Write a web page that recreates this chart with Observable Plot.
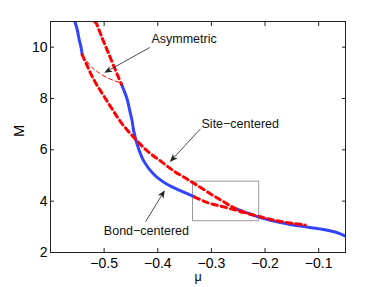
<!DOCTYPE html>
<html><head><meta charset="utf-8">
<script src="https://cdn.jsdelivr.net/npm/d3@7"></script>
<script src="https://cdn.jsdelivr.net/npm/@observablehq/plot@0.6"></script>
<style>body{margin:0;background:#fff;font-family:"Liberation Sans",Arial,sans-serif;}</style>
</head><body><div id="chart"></div>
<script>
const xTicks = [-0.5, -0.4, -0.3, -0.2, -0.1];
const yTicks = [2, 4, 6, 8, 10];

// Bond-centered (solid blue) segments
const bondAX = [-0.5546, -0.5503, -0.5466, -0.5428, -0.541];
const bondAY = [11.0, 10.69, 10.30, 9.97, 9.71];
const bondBX = [-0.4678, -0.4641, -0.4572, -0.452, -0.4479, -0.4449, -0.4385, -0.4263, -0.4076, -0.3827, -0.3579, -0.3318];
const bondBY = [8.56, 8.37, 7.98, 7.51, 7.13, 6.74, 6.22, 5.57, 5.05, 4.66, 4.41, 4.17];
const bondCX = [-0.2524, -0.2276, -0.2052, -0.1717, -0.1345, -0.0972, -0.0693, -0.05];
const bondCY = [3.69, 3.50, 3.34, 3.17, 3.03, 2.92, 2.80, 2.64];

// Site-centered (thick red dashed) segments
const siteAX = [-0.541, -0.533, -0.5236, -0.5125, -0.4994, -0.4827, -0.4678, -0.4454, -0.4199, -0.3952, -0.3704, -0.3454, -0.3207, -0.2959, -0.2773, -0.2587, -0.2369, -0.2121, -0.1872, -0.1685, -0.1499, -0.1251];
const siteAY = [9.71, 9.34, 8.91, 8.49, 8.06, 7.51, 7.05, 6.50, 5.96, 5.57, 5.18, 4.86, 4.54, 4.21, 3.98, 3.75, 3.55, 3.41, 3.28, 3.20, 3.14, 3.07];
const siteBX = [-0.518, -0.5153, -0.5032, -0.492, -0.4808, -0.4734, -0.4678];
const siteBY = [11.0, 10.95, 10.33, 9.77, 9.20, 8.83, 8.56];
const siteCX = [-0.3318, -0.3082, -0.2834, -0.2616, -0.243];
const siteCY = [4.17, 3.95, 3.81, 3.69, 3.57];

// Asymmetric (thin red dashed)
const asymX = [-0.541, -0.5348, -0.5224, -0.51, -0.4945, -0.479, -0.4678];
const asymY = [9.65, 9.52, 9.20, 9.00, 8.81, 8.68, 8.60];

// Zoom box
const boxX = [-0.3343, -0.211];
const boxY = [3.22, 4.76];

// Annotations
const labelText = ["Asymmetric", "Site\u2212centered", "Bond\u2212centered"];
const labelX = [-0.351, -0.2462, -0.4212];
const labelY = [10.31, 7.02, 2.83];
const arrowFromX = [-0.4138, -0.3194, -0.4218];
const arrowFromY = [9.97, 6.80, 3.18];
const arrowToX = [-0.4989, -0.3765, -0.3859];
const arrowToY = [8.98, 5.51, 4.41];

const pts = (xs, ys) => xs.map((x, i) => ({x, y: ys[i]}));
const labels = labelText.map((t, i) => ({t, x: labelX[i], y: labelY[i]}));
const arrows = arrowFromX.map((x, i) => ({x1: x, y1: arrowFromY[i], x2: arrowToX[i], y2: arrowToY[i]}));

const BLUE = "#3344ff", RED = "#ff0000", INK = "#222";
const font = 14;

// arrows with filled MATLAB-like heads, positioned via the plot's scales
function arrowMark(index, scales) {
  const g = d3.create("svg:g").attr("stroke", INK).attr("fill", INK);
  if (!scales || typeof scales.x !== "function") return g.node();
  for (const a of arrows) {
    const x1 = scales.x(a.x1), y1 = scales.y(a.y1), x2 = scales.x(a.x2), y2 = scales.y(a.y2);
    const dx = x2 - x1, dy = y2 - y1, L = Math.hypot(dx, dy), ux = dx / L, uy = dy / L;
    const hl = 8, hw = 3.2, notch = 6;
    const bx = x2 - ux * hl, by = y2 - uy * hl;
    g.append("line").attr("x1", x1).attr("y1", y1).attr("x2", x2 - ux * notch).attr("y2", y2 - uy * notch).attr("stroke-width", 0.8);
    g.append("path").attr("stroke", "none").attr("d",
      `M${x2},${y2}L${bx - uy * hw},${by + ux * hw}L${x2 - ux * notch},${y2 - uy * notch}L${bx + uy * hw},${by - ux * hw}Z`);
  }
  return g.node();
}

const chart = Plot.plot({
  width: 382, height: 287,
  marginLeft: 50, marginRight: 37, marginTop: 21, marginBottom: 35,
  style: {fontFamily: '"Liberation Sans", Arial, sans-serif', background: "#fff", color: "#000"},
  x: {domain: [-0.6, -0.05]},
  y: {domain: [2, 11]},
  marks: [
    Plot.rect([{}], {x1: () => boxX[0], x2: () => boxX[1], y1: () => boxY[0], y2: () => boxY[1], fill: "none", stroke: "#9a9a9a", strokeWidth: 1}),
    Plot.line(pts(bondAX, bondAY), {x: "x", y: "y", stroke: BLUE, strokeWidth: 3, curve: "catmull-rom", clip: true}),
    Plot.line(pts(bondBX, bondBY), {x: "x", y: "y", stroke: BLUE, strokeWidth: 3, curve: "catmull-rom", clip: true}),
    Plot.line(pts(bondCX, bondCY), {x: "x", y: "y", stroke: BLUE, strokeWidth: 3, curve: "catmull-rom", clip: true}),
    Plot.line(pts(siteAX, siteAY), {x: "x", y: "y", stroke: RED, strokeWidth: 3, strokeDasharray: "5.5,4", curve: "catmull-rom", clip: true}),
    Plot.line(pts(siteBX, siteBY), {x: "x", y: "y", stroke: RED, strokeWidth: 3, strokeDasharray: "5.5,4", curve: "catmull-rom", clip: true}),
    Plot.line(pts(siteCX, siteCY), {x: "x", y: "y", stroke: RED, strokeWidth: 3, strokeDasharray: "5.5,4", curve: "catmull-rom", clip: true}),
    Plot.line(pts(asymX, asymY), {x: "x", y: "y", stroke: RED, strokeWidth: 1, strokeDasharray: "4,3", curve: "catmull-rom", clip: true}),
    arrowMark,
    Plot.text(labels, {x: "x", y: "y", text: "t", fontSize: 12.5, fill: "#111"}),
    Plot.frame({stroke: INK}),
    Plot.axisX(xTicks, {anchor: "bottom", tickSize: -4, fill: "none", stroke: INK, label: null}),
    Plot.axisX(xTicks, {anchor: "top", tickSize: -4, fill: "none", stroke: INK, label: null}),
    Plot.axisY(yTicks, {anchor: "left", tickSize: -4, fill: "none", stroke: INK, label: null}),
    Plot.axisY(yTicks, {anchor: "right", tickSize: -4, fill: "none", stroke: INK, label: null}),
    Plot.axisX(xTicks, {anchor: "bottom", tickSize: 0, tickPadding: 6, fontSize: font, label: null}),
    Plot.axisY(yTicks, {anchor: "left", tickSize: 0, tickPadding: 3, fontSize: font, label: null}),
    Plot.text(["\u03bc"], {frameAnchor: "bottom", dy: 28, text: d => d, fontSize: 12.5}),
    Plot.text(["M"], {frameAnchor: "left", dx: -31, text: d => d, fontSize: 14.5, rotate: -90})
  ]
});
document.getElementById("chart").appendChild(chart);
</script>
</body></html>
